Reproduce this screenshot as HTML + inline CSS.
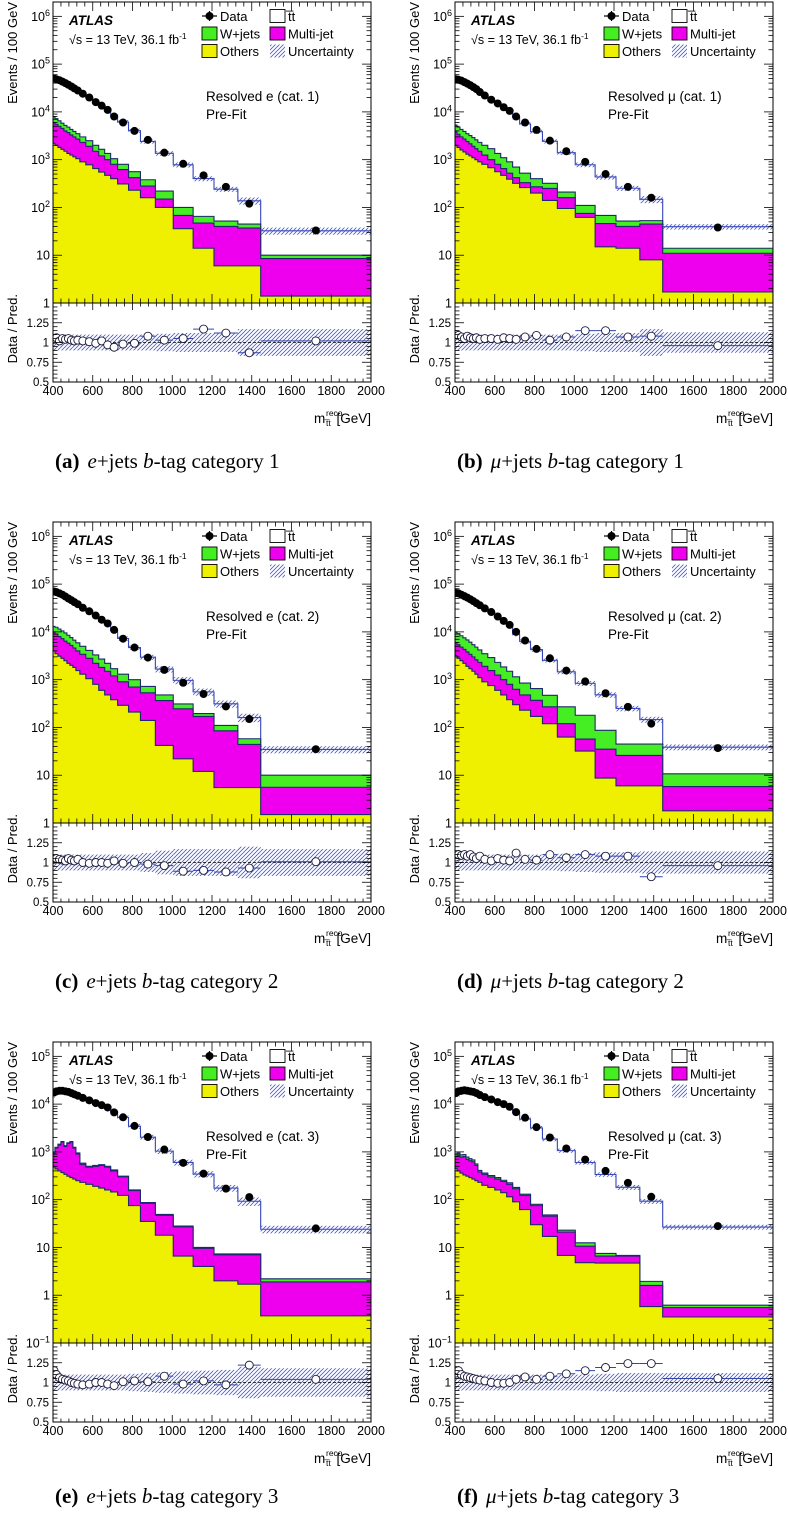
<!DOCTYPE html>
<html><head><meta charset="utf-8">
<style>
html,body{margin:0;padding:0;background:#fff;}
svg{display:block;}
text{font-family:"Liberation Sans",Arial,sans-serif;}
.cap{font-family:"Liberation Serif","Times New Roman",serif;font-size:21px;}
</style></head>
<body>
<svg id="fig" width="788" height="1514" viewBox="0 0 788 1514" xmlns="http://www.w3.org/2000/svg">
<defs>
<pattern id="hatch" patternUnits="userSpaceOnUse" width="4" height="4">
<path d="M-1,5 L5,-1 M-1,1 L1,-1 M3,5 L5,3" stroke="#4a5bc8" stroke-width="0.8"/>
</pattern>
</defs>
</svg>
<script>
// bin edges (GeV)
const EDGES=[400,410,425,440,455,470,485,500,515,535,565,600,630,660,690,725,780,840,915,1005,1105,1210,1330,1445,2000];

// (a) e+jets cat 1
const dataA=[50000,48000,46000,43000,40000,37000,34000,31000,28000,24000,20000,16000,13500,11000,8000,6000,4000,2600,1400,820,470,270,120,33];
const ratioA=[1.04,1.06,1.02,1.05,1.04,1.05,1.03,1.02,1.03,1.02,1.01,0.99,1.02,0.97,0.94,0.98,0.99,1.08,1.03,1.05,1.17,1.12,0.87,1.02];
const wjA=[8000,7200,6500,5800,5200,4800,4300,3900,3500,3000,2500,2000,1650,1350,1050,800,560,380,220,100,65,52,45,10];
const mjA=[6000,5500,5000,4500,4000,3700,3300,3000,2700,2300,1900,1500,1200,1000,800,620,420,280,150,68,47,40,37,8.5];
const othA=[2200,2000,1800,1650,1500,1350,1250,1150,1050,900,780,650,550,470,400,310,230,160,100,36,14,6,6,1.4];
const uncA=[0.1,0.1,0.1,0.1,0.1,0.1,0.1,0.1,0.1,0.1,0.1,0.1,0.1,0.1,0.1,0.1,0.1,0.1,0.11,0.12,0.12,0.12,0.17,0.17];

// (b) mu+jets cat 1
const dataB=[48000,47000,45000,42000,39000,36000,33000,30000,26000,22000,18000,15000,12500,10500,8000,6000,4200,2500,1500,900,500,270,160,38];
const ratioB=[1.1,1.09,1.07,1.05,1.08,1.06,1.05,1.06,1.04,1.05,1.05,1.04,1.06,1.05,1.04,1.07,1.09,1.03,1.07,1.15,1.15,1.07,1.08,0.96];
const wjB=[5300,4800,4300,3900,3500,3200,2900,2600,2300,2000,1700,1350,1100,900,700,520,400,320,210,110,68,52,53,14];
const mjB=[3800,3400,3000,2700,2400,2150,1900,1700,1500,1250,1000,800,650,520,420,330,270,250,160,75,46,40,45,11];
const othB=[2000,1800,1600,1450,1300,1200,1100,1000,900,800,680,560,470,390,320,260,200,140,95,62,15,14,8,1.7];
const uncB=[0.1,0.1,0.1,0.1,0.1,0.1,0.1,0.1,0.1,0.1,0.1,0.1,0.1,0.1,0.1,0.1,0.1,0.1,0.1,0.11,0.12,0.12,0.17,0.13];

// (c) e+jets cat 2
const dataC=[70000,68000,64000,60000,55000,50000,46000,42000,38000,32000,27000,22000,18000,15000,11000,7200,4700,2900,1600,860,500,275,150,35];
const ratioC=[1.04,1.05,1.04,1.03,1.02,1.05,1.03,1.02,1.04,1.0,0.99,1.0,1.0,0.99,1.02,0.99,1.0,0.98,0.96,0.89,0.9,0.88,0.93,1.01];
const wjC=[13000,12500,11500,10500,9500,8500,7600,6700,5900,5000,4100,3300,2700,2200,1700,1300,1000,720,480,310,195,110,58,10];
const mjC=[10000,9000,8000,7200,6400,5800,5200,4600,4000,3400,2800,2200,1800,1500,1200,900,700,530,365,245,170,85,44,5.6];
const othC=[4000,3500,3100,2800,2500,2200,2000,1800,1550,1300,1050,800,600,480,380,290,210,140,42,22,12,5.5,5.5,1.5];
const uncC=[0.1,0.1,0.1,0.1,0.1,0.1,0.1,0.1,0.1,0.1,0.1,0.1,0.1,0.1,0.1,0.1,0.1,0.12,0.15,0.17,0.17,0.17,0.2,0.17];

// (d) mu+jets cat 2
const dataD=[65000,64000,60000,56000,52000,48000,44000,40000,36000,31000,26000,21000,17000,14000,10000,6600,4400,2800,1550,920,520,270,120,37];
const ratioD=[1.07,1.1,1.09,1.1,1.08,1.1,1.07,1.05,1.08,1.04,1.02,1.05,1.03,1.02,1.12,1.04,1.03,1.1,1.06,1.1,1.08,1.08,0.82,0.96];
const wjD=[10000,9200,8300,7500,6800,6100,5400,4800,4200,3500,2900,2300,1850,1500,1150,850,650,470,270,180,87,45,45,10.7];
const mjD=[6000,5400,4800,4300,3800,3400,3000,2600,2300,1900,1550,1250,1000,800,630,480,370,270,120,57,35,26,26,5.8];
const othD=[3200,2800,2500,2200,1900,1700,1500,1300,1100,900,750,600,480,380,300,230,170,120,63,32,8.7,6,6,1.8];
const uncD=[0.1,0.1,0.1,0.1,0.1,0.1,0.1,0.1,0.1,0.1,0.1,0.1,0.1,0.1,0.1,0.1,0.1,0.1,0.11,0.12,0.13,0.13,0.14,0.14];

// (e) e+jets cat 3
const dataE=[17500,18500,19000,19000,18500,18000,17000,16000,15000,13500,12000,10500,9500,8500,6700,5300,3500,2050,1120,590,350,170,113,25];
const ratioE=[1.15,1.1,1.06,1.04,1.03,1.02,1.0,0.99,0.98,0.97,0.98,1.0,1.0,0.98,0.96,1.01,1.02,1.01,1.08,0.98,1.02,0.97,1.22,1.04];
const wjE=[950,1250,1450,1650,1350,1550,1650,1250,950,580,500,520,540,500,420,310,160,87,49,28,10,7.3,7.3,2.2];
const mjE=[900,1200,1400,1600,1300,1500,1600,1200,900,550,480,500,520,480,400,300,155,84,47,27,9.6,7,7,1.9];
const othE=[480,440,400,370,340,310,290,270,250,230,210,190,175,160,145,123,75,35,18,6.6,4,2,1.7,0.37];
const uncE=[0.1,0.1,0.1,0.1,0.1,0.1,0.1,0.1,0.1,0.1,0.1,0.1,0.1,0.1,0.1,0.1,0.11,0.12,0.13,0.14,0.15,0.16,0.2,0.18];

// (f) mu+jets cat 3
const dataF=[17000,18500,19000,19500,19000,18500,18000,17000,15500,14000,12500,11000,10000,8800,6800,5200,3300,2000,1180,690,400,225,115,28];
const ratioF=[1.12,1.15,1.1,1.08,1.07,1.06,1.05,1.04,1.03,1.02,1.0,0.99,0.99,1.0,1.04,1.07,1.04,1.08,1.11,1.15,1.19,1.24,1.24,1.05];
const wjF=[900,950,870,880,780,720,680,560,410,360,320,290,255,225,180,130,80,48,23,12.5,7.5,6.8,1.95,0.62];
const mjF=[800,850,780,800,700,650,620,520,380,340,300,270,240,210,170,123,75,45,21,10.6,6.6,6.6,1.6,0.55];
const othF=[450,400,360,330,310,290,270,250,230,200,180,160,140,115,90,62,30,17,6.8,4.8,4.7,4.7,0.58,0.35];
const uncF=[0.1,0.1,0.1,0.1,0.1,0.1,0.1,0.1,0.1,0.1,0.1,0.1,0.1,0.1,0.1,0.1,0.1,0.1,0.1,0.1,0.11,0.12,0.12,0.12];

const XTICKS=[400,600,800,1000,1200,1400,1600,1800,2000];
const RTICKS=[0.5,0.75,1,1.25];
const RTICK_LABELS=["0.5","0.75","1","1.25"];

const NS="http://www.w3.org/2000/svg";
const svg=document.getElementById('fig');
function mk(tag,attrs,parent){const e=document.createElementNS(NS,tag);for(const k in attrs)e.setAttribute(k,attrs[k]);(parent||svg).appendChild(e);return e;}

const panels=[
 {id:'a',x0:53,top:2,logMax:6.3,logMin:0,data:dataA,ratio:ratioA,wj:wjA,mj:mjA,oth:othA,unc:uncA,lep:'e',cat:1,capx:55,capy:468},
 {id:'b',x0:455,top:2,logMax:6.3,logMin:0,data:dataB,ratio:ratioB,wj:wjB,mj:mjB,oth:othB,unc:uncB,lep:'\u03bc',cat:1,capx:457,capy:468},
 {id:'c',x0:53,top:522,logMax:6.3,logMin:0,data:dataC,ratio:ratioC,wj:wjC,mj:mjC,oth:othC,unc:uncC,lep:'e',cat:2,capx:55,capy:988},
 {id:'d',x0:455,top:522,logMax:6.3,logMin:0,data:dataD,ratio:ratioD,wj:wjD,mj:mjD,oth:othD,unc:uncD,lep:'\u03bc',cat:2,capx:457,capy:988},
 {id:'e',x0:53,top:1042,logMax:5.3,logMin:-1,data:dataE,ratio:ratioE,wj:wjE,mj:mjE,oth:othE,unc:uncE,lep:'e',cat:3,capx:55,capy:1503},
 {id:'f',x0:455,top:1042,logMax:5.3,logMin:-1,data:dataF,ratio:ratioF,wj:wjF,mj:mjF,oth:othF,unc:uncF,lep:'\u03bc',cat:3,capx:457,capy:1503}
];
const W=318, MH=301, RH=79;

function drawPanel(p){
 const g=mk('g',{});
 
 
 const x=v=>p.x0+(v-400)/1600*W;
 const y=v=>p.top+(p.logMax-Math.log10(Math.max(v,1e-6)))/(p.logMax-p.logMin)*MH;
 const bot=p.top+MH;
 const ry=r=>bot+(1.5-r)*RH;
 const rbot=bot+RH;
 const n=p.data.length;
 const total=p.data.map((d,i)=>d/p.ratio[i]);
 const clipId='clip'+p.id;
 const cp=mk('clipPath',{id:clipId},g);mk('rect',{x:p.x0,y:p.top,width:W,height:MH},cp);
 const cp2=mk('clipPath',{id:clipId+'r'},g);mk('rect',{x:p.x0,y:bot,width:W,height:RH},cp2);
 const mg=mk('g',{'clip-path':'url(#'+clipId+')'},g);
 function stepPath(vals){
  let d='M'+x(EDGES[0])+','+(bot+2);
  for(let i=0;i<n;i++){d+=' L'+x(EDGES[i])+','+y(vals[i])+' L'+x(EDGES[i+1])+','+y(vals[i]);}
  d+=' L'+x(EDGES[n])+','+(bot+2)+' Z';return d;
 }
 const layers=[[total,'#ffffff','#3344bb','ttbar-stack'],[p.wj,'#44ee22','#1a2a6a','wjets-stack'],[p.mj,'#ee00ee','#1a2a6a','multijet-stack'],[p.oth,'#eef000','#1a2a6a','others-stack']];
 layers.forEach(L=>{
  const pa=mk('path',{d:stepPath(L[0]),fill:L[1],stroke:L[2],'stroke-width':1.1},mg);
  
  
 });
 for(let i=0;i<n;i++){
  const r=mk('rect',{x:x(EDGES[i]),y:y(total[i]*(1+p.unc[i])),width:x(EDGES[i+1])-x(EDGES[i]),height:y(total[i]*(1-p.unc[i]))-y(total[i]*(1+p.unc[i])),fill:'url(#hatch)'},mg);
  
  
 }
 for(let i=0;i<n;i++){
  const cx=x((EDGES[i]+EDGES[i+1])/2);
  const c=mk('circle',{cx:cx,cy:y(p.data[i]),r:4,fill:'#000'},mg);
  
  
 }
 const rg=mk('g',{'clip-path':'url(#'+clipId+'r)'},g);
 for(let i=0;i<n;i++){
  const b=mk('rect',{x:x(EDGES[i]),y:ry(1+p.unc[i]),width:x(EDGES[i+1])-x(EDGES[i]),height:ry(1-p.unc[i])-ry(1+p.unc[i]),fill:'url(#hatch)'},rg);
  
  
 }
 mk('line',{x1:p.x0,x2:p.x0+W,y1:ry(1),y2:ry(1),stroke:'#000','stroke-width':0.8,'stroke-dasharray':'3,2'},rg);
 for(let i=0;i<n;i++){
  const cx=x((EDGES[i]+EDGES[i+1])/2), cy=ry(p.ratio[i]);
  mk('line',{x1:x(EDGES[i]),x2:x(EDGES[i+1]),y1:cy,y2:cy,stroke:'#3344aa','stroke-width':1},rg);
  const c=mk('circle',{cx:cx,cy:cy,r:4,fill:'#fff',stroke:'#1a1a3a','stroke-width':0.9},rg);
  
  
 }
 mk('rect',{x:p.x0,y:p.top,width:W,height:MH,fill:'none',stroke:'#000','stroke-width':1},g);
 mk('rect',{x:p.x0,y:bot,width:W,height:RH,fill:'none',stroke:'#000','stroke-width':1},g);
 const tg=mk('g',{stroke:'#000','stroke-width':0.8},g);
 for(let dec=Math.floor(p.logMin);dec<=Math.ceil(p.logMax);dec++){
  for(let m=1;m<=9;m++){
   const lv=dec+Math.log10(m);
   if(lv<p.logMin-1e-9||lv>p.logMax)continue;
   const yy=y(Math.pow(10,lv));const L=m===1?9:4.5;
   mk('line',{x1:p.x0,x2:p.x0+L,y1:yy,y2:yy},tg);
   mk('line',{x1:p.x0+W,x2:p.x0+W-L,y1:yy,y2:yy},tg);
  }
 }
 for(let dec=Math.ceil(p.logMin);dec<=Math.floor(p.logMax);dec++){
  const yy=y(Math.pow(10,dec));
  const t=mk('text',{x:p.x0-3,y:yy+4.5,'font-size':12.5,'text-anchor':'end'},g);
  
  
  if(dec===0){t.textContent='1';}
  else if(dec===1){t.textContent='10';}
  else{
   const a=mk('tspan',{},t);a.textContent='10';
   const s=mk('tspan',{'font-size':9,dy:-5},t);s.textContent=String(dec).replace('-','\u2212');
  }
 }
 for(let v=400;v<=2000;v+=40){
  const xx=x(v);const maj=(v-400)%200===0;const L=maj?9:4.5;
  mk('line',{x1:xx,x2:xx,y1:bot,y2:bot-L},tg);
  mk('line',{x1:xx,x2:xx,y1:p.top,y2:p.top+L},tg);
  mk('line',{x1:xx,x2:xx,y1:rbot,y2:rbot-(maj?7:3.5)},tg);
  mk('line',{x1:xx,x2:xx,y1:bot,y2:bot+(maj?7:3.5)},tg);
 }
 for(let k=0;k<=20;k++){
  const r=0.5+k*0.05;const yy=ry(r);const maj=(k%5===0);const L=maj?9:4.5;
  mk('line',{x1:p.x0,x2:p.x0+L,y1:yy,y2:yy},tg);
  mk('line',{x1:p.x0+W,x2:p.x0+W-L,y1:yy,y2:yy},tg);
 }
 RTICKS.forEach((r,i)=>{
  const t=mk('text',{x:p.x0-4,y:ry(r)+4,'font-size':11.5,'text-anchor':'end'},g);
  t.textContent=RTICK_LABELS[i];
  
  
 });
 XTICKS.forEach(v=>{
  const t=mk('text',{x:x(v),y:rbot+13,'font-size':12.5,'text-anchor':'middle'},g);
  t.textContent=String(v);
  
  
 });
 const yt=mk('text',{x:0,y:0,'font-size':13,'text-anchor':'end',transform:'translate('+(p.x0-36)+','+p.top+') rotate(-90)'},g);
 yt.textContent='Events / 100 GeV';
 
 
 const rt=mk('text',{x:0,y:0,'font-size':13,'text-anchor':'end',transform:'translate('+(p.x0-36)+','+(bot-9)+') rotate(-90)'},g);
 rt.textContent='Data / Pred.';
 
 
 // x axis title
 const xr=p.x0+W, xb=rbot+41;
 const xg=mk('g',{},g);
 
 
 let t1=mk('text',{x:xr-57,y:xb,'font-size':13.5},xg);t1.textContent='m';
 t1=mk('text',{x:xr-45,y:xb-7,'font-size':8.5},xg);t1.textContent='reco';
 t1=mk('text',{x:xr-45,y:xb+3,'font-size':8.5},xg);t1.textContent='t\u0305t';
 t1=mk('text',{x:xr,y:xb,'font-size':13.5,'text-anchor':'end'},xg);t1.textContent='[GeV]';
 let s;
 const at=mk('text',{x:p.x0+16,y:p.top+23,'font-size':13.5,'font-weight':'bold','font-style':'italic'},g);
 at.textContent='ATLAS';
 
 
 const en=mk('text',{x:p.x0+16,y:p.top+42,'font-size':12.5},g);
 
 
 s=mk('tspan',{},en);s.textContent='\u221as = 13 TeV, 36.1 fb';
 s=mk('tspan',{'font-size':8.5,dy:-5},en);s.textContent='-1';
 const rl=mk('text',{x:p.x0+153,y:p.top+99,'font-size':13.5},g);
 rl.textContent='Resolved '+p.lep+' (cat. '+p.cat+')';
 
 
 const pf=mk('text',{x:p.x0+153,y:p.top+117,'font-size':13.5},g);
 pf.textContent='Pre-Fit';
 
 
 const lg=mk('g',{},g);
 
 
 const lx=p.x0+149, lx2=p.x0+217, ly=p.top+14, dy=17.5;
 mk('line',{x1:lx,x2:lx+15,y1:ly,y2:ly,stroke:'#000','stroke-width':1.2},lg);
 mk('line',{x1:lx+7.5,x2:lx+7.5,y1:ly-5,y2:ly+5,stroke:'#000','stroke-width':1.2},lg);
 mk('circle',{cx:lx+7.5,cy:ly,r:4,fill:'#000'},lg);
 const items=[[lx,ly+dy,'#44ee22','W+jets'],[lx,ly+2*dy,'#eef000','Others'],[lx2,ly,'#ffffff','t\u0305t'],[lx2,ly+dy,'#ee00ee','Multi-jet']];
 items.forEach(it=>{
  const r=mk('rect',{x:it[0],y:it[1]-6.5,width:15,height:13,fill:it[2],stroke:'#000','stroke-width':0.9},lg);
  
  
  const t=mk('text',{x:it[0]+18,y:it[1]+5,'font-size':13},lg);t.textContent=it[3];
  
  
 });
 mk('rect',{x:lx2,y:ly+2*dy-6.5,width:15,height:13,fill:'url(#hatch)'},lg);
 let t=mk('text',{x:lx2+18,y:ly+2*dy+5,'font-size':13},lg);t.textContent='Uncertainty';
 
 
 t=mk('text',{x:lx+18,y:ly+5,'font-size':13},lg);t.textContent='Data';
 
 
 const cap=mk('text',{x:p.capx,y:p.capy,class:'cap'},svg);
 
 
 s=mk('tspan',{'font-weight':'bold'},cap);s.textContent='('+p.id+')';
 s=mk('tspan',{dx:8,'font-style':'italic'},cap);s.textContent=p.lep;
 s=mk('tspan',{},cap);s.textContent='+jets ';
 s=mk('tspan',{'font-style':'italic'},cap);s.textContent='b';
 s=mk('tspan',{},cap);s.textContent='-tag category '+p.cat;
}
panels.forEach(drawPanel);
</script>
</body></html>
